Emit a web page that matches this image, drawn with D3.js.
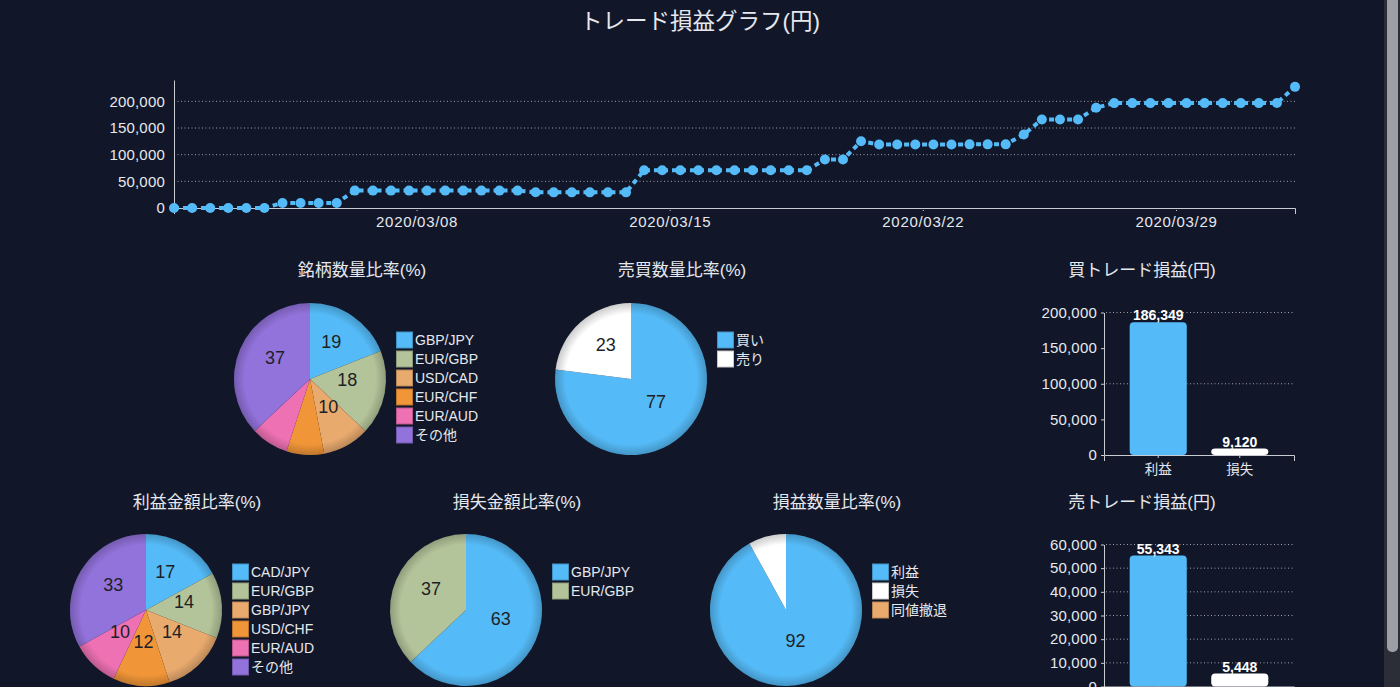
<!DOCTYPE html>
<html>
<head>
<meta charset="utf-8">
<script src="https://cdn.jsdelivr.net/npm/d3@7"></script>
<style>
  html, body { margin: 0; padding: 0; background: #111729; overflow: hidden; }
  svg { display: block; font-family: "Liberation Sans", "Noto Sans CJK JP", sans-serif; }
</style>
</head>
<body>
<div id="chart"></div>
<script>
// cumulative P/L, one point every 12 hours
const dates = [
  '2020-03-01T07', '2020-03-01T19', '2020-03-02T07', '2020-03-02T19', '2020-03-03T07', '2020-03-03T19',
  '2020-03-04T07', '2020-03-04T19', '2020-03-05T07', '2020-03-05T19', '2020-03-06T07', '2020-03-06T19',
  '2020-03-07T07', '2020-03-07T19', '2020-03-08T07', '2020-03-08T19', '2020-03-09T07', '2020-03-09T19',
  '2020-03-10T07', '2020-03-10T19', '2020-03-11T07', '2020-03-11T19', '2020-03-12T07', '2020-03-12T19',
  '2020-03-13T07', '2020-03-13T19', '2020-03-14T07', '2020-03-14T19', '2020-03-15T07', '2020-03-15T19',
  '2020-03-16T07', '2020-03-16T19', '2020-03-17T07', '2020-03-17T19', '2020-03-18T07', '2020-03-18T19',
  '2020-03-19T07', '2020-03-19T19', '2020-03-20T07', '2020-03-20T19', '2020-03-21T07', '2020-03-21T19',
  '2020-03-22T07', '2020-03-22T19', '2020-03-23T07', '2020-03-23T19', '2020-03-24T07', '2020-03-24T19',
  '2020-03-25T07', '2020-03-25T19', '2020-03-26T07', '2020-03-26T19', '2020-03-27T07', '2020-03-27T19',
  '2020-03-28T07', '2020-03-28T19', '2020-03-29T07', '2020-03-29T19', '2020-03-30T07', '2020-03-30T19',
  '2020-03-31T07', '2020-03-31T19', '2020-04-01T07'
]
const cumulative = [
  0, 0, 0, 0, 0, 0,
  9500, 9500, 9500, 9500,
  32600, 32600, 32600, 32600, 32600, 32600, 32600, 32600, 32600, 32600,
  29500, 29300, 29300, 29300, 29300, 29300,
  70700, 70700, 70700, 70700, 70700, 70700, 70700, 70700, 70700, 70700,
  90800, 90800,
  125200,
  119000, 119000, 119000, 119000, 119000, 119300, 119300, 119300,
  137800,
  166000, 166000, 166000,
  188000,
  196700, 196700, 196700, 196700, 196700, 196700, 196700, 196700, 196700, 196800,
  227124
]
const lineTicks = [0, 50000, 100000, 150000, 200000]

const symbolNames = ['GBP/JPY', 'EUR/GBP', 'USD/CAD', 'EUR/CHF', 'EUR/AUD', 'その他']
const symbolShares = [19, 18, 10, 8, 8, 37]
const sideNames = ['買い', '売り']
const sideShares = [77, 23]
const profitNames = ['CAD/JPY', 'EUR/GBP', 'GBP/JPY', 'USD/CHF', 'EUR/AUD', 'その他']
const profitShares = [17, 14, 14, 12, 10, 33]
const lossNames = ['GBP/JPY', 'EUR/GBP']
const lossShares = [63, 37]
const outcomeNames = ['利益', '損失', '同値撤退']
const outcomeShares = [92, 8, 0]

const barCategories = ['利益', '損失']
const buyPL = [186349, 9120]
const sellPL = [55343, 5448]
const buyTicks = [0, 50000, 100000, 150000, 200000]
const buyGrid = [100000, 200000]
const sellTicks = [0, 10000, 20000, 30000, 40000, 50000, 60000]

const blue = '#55bbf8'
const pairColours = [blue, '#b4c49a', '#e9aa6e', '#f09538', '#ed71b3', '#9272db']
const sideColours = [blue, '#ffffff', '#e9aa6e']
const textColour = '#e6e8ee'

const svg = d3.select('#chart').append('svg')
  .attr('width', 1400)
  .attr('height', 687)

svg.append('rect')
  .attr('width', 1400)
  .attr('height', 687)
  .attr('fill', '#111729')

// rim shading for pies
const defs = svg.append('defs')
const grad = defs.append('radialGradient').attr('id', 'rim')
grad.append('stop').attr('offset', '0%').attr('stop-color', '#000').attr('stop-opacity', 0)
grad.append('stop').attr('offset', '86%').attr('stop-color', '#000').attr('stop-opacity', 0)
grad.append('stop').attr('offset', '100%').attr('stop-color', '#000').attr('stop-opacity', 0.2)

svg.append('text')
  .attr('x', 700)
  .attr('y', 21)
  .attr('dy', '0.35em')
  .attr('text-anchor', 'middle')
  .style('font-size', '22.5px')
  .attr('fill', textColour)
  .text('トレード損益グラフ(円)')

makeLine()

makePie({ cx: 310, cy: 379, title: '銘柄数量比率(%)', tx: 362, ty: 270, names: symbolNames, values: symbolShares, colours: pairColours, lx: 396, ly: 340 })
makePie({ cx: 631, cy: 379, title: '売買数量比率(%)', tx: 682, ty: 270, names: sideNames, values: sideShares, colours: sideColours, lx: 717, ly: 340 })
makePie({ cx: 146, cy: 610, title: '利益金額比率(%)', tx: 197, ty: 502, names: profitNames, values: profitShares, colours: pairColours, lx: 232, ly: 572 })
makePie({ cx: 466, cy: 610, title: '損失金額比率(%)', tx: 517, ty: 502, names: lossNames, values: lossShares, colours: pairColours, lx: 552, ly: 572 })
makePie({ cx: 786, cy: 610, title: '損益数量比率(%)', tx: 837, ty: 502, names: outcomeNames, values: outcomeShares, colours: sideColours, lx: 872, ly: 572 })

makeBar({ title: '買トレード損益(円)', ty: 270, values: buyPL, ticks: buyTicks, grid: buyGrid, max: 200000, y0: 455, y1: 312.5 })
makeBar({ title: '売トレード損益(円)', ty: 502, values: sellPL, ticks: sellTicks, grid: sellTicks.slice(1), max: 60000, y0: 686.5, y1: 544.5 })

// scrollbar of the original screenshot
svg.append('rect').attr('x', 1384).attr('y', 0).attr('width', 16).attr('height', 687).attr('fill', '#2b2e36')
svg.append('rect').attr('x', 1387).attr('y', -6).attr('width', 11).attr('height', 658).attr('rx', 5).attr('fill', '#9c9fa6')

function makeLine() {
  const parse = d3.timeParse('%Y-%m-%dT%H')
  const pts = dates.map((d, i) => ({ date: parse(d), value: cumulative[i] }))

  const x = d3.scaleTime()
    .domain(d3.extent(pts, d => d.date))
    .range([174, 1295])
  const y = d3.scaleLinear()
    .domain([0, 240000])
    .range([208, 80])

  const g = svg.append('g')

  g.selectAll('.grid')
    .data(lineTicks.filter(t => t > 0))
    .enter()
    .append('line')
    .attr('x1', 174)
    .attr('x2', 1295)
    .attr('y1', d => y(d))
    .attr('y2', d => y(d))
    .attr('stroke', 'rgba(255,255,255,0.6)')
    .attr('stroke-dasharray', '1,2.5')

  const yAxis = g.append('g')
    .attr('transform', 'translate(174,0)')
    .call(d3.axisLeft(y).tickValues(lineTicks).tickFormat(d3.format(',')).tickSize(0).tickPadding(9))
  styleAxis(yAxis, 15, 0.2)

  const xAxis = g.append('g')
    .attr('transform', 'translate(0,208)')
    .call(d3.axisBottom(x).ticks(d3.timeWeek.every(1)).tickFormat(d3.timeFormat('%Y/%m/%d')).tickSize(3).tickSizeOuter(6).tickPadding(5))
  styleAxis(xAxis, 15, 0.7)
  xAxis.selectAll('.tick line').attr('stroke-dasharray', '1,1')

  const line = d3.line()
    .x(d => x(d.date))
    .y(d => y(d.value))

  g.append('path')
    .datum(pts)
    .attr('d', line)
    .attr('fill', 'none')
    .attr('stroke', blue)
    .attr('stroke-width', 4)
    .attr('stroke-dasharray', '5,4')

  g.selectAll('.dot')
    .data(pts)
    .enter()
    .append('circle')
    .attr('cx', d => x(d.date))
    .attr('cy', d => y(d.value))
    .attr('r', 5)
    .attr('fill', blue)
}

function styleAxis(ax, size, spacing) {
  ax.select('.domain').attr('stroke', '#c9ccd3')
  ax.selectAll('.tick line').attr('stroke', '#c9ccd3')
  ax.selectAll('.tick text')
    .attr('fill', textColour)
    .style('font-size', size + 'px')
    .style('letter-spacing', (spacing || 0) + 'px')
    .style('font-family', '"Liberation Sans", "Noto Sans CJK JP", sans-serif')
}

function makePie({ cx, cy, title, tx, ty, names, values, colours, lx, ly }) {
  const radius = 76
  const data = names.map((n, i) => ({ name: n, value: values[i], colour: colours[i] }))

  svg.append('text')
    .attr('x', tx)
    .attr('y', ty)
    .attr('dy', '0.35em')
    .attr('text-anchor', 'middle')
    .style('font-size', '17px')
    .attr('fill', textColour)
    .text(title)

  const g = svg.append('g')
    .attr('transform', `translate(${cx} ${cy})`)

  const arcs = d3.pie().value(d => d.value).sort(null)(data)
  const arcGenerator = d3.arc().innerRadius(0).outerRadius(radius)

  g.selectAll('path')
    .data(arcs)
    .enter()
    .append('path')
    .attr('d', arcGenerator)
    .attr('fill', d => d.data.colour)

  g.append('circle')
    .attr('r', radius)
    .attr('fill', 'url(#rim)')

  g.selectAll('.labelsPie')
    .data(arcs.filter(d => d.data.value >= 10))
    .enter()
    .append('text')
    .attr('class', 'labelsPie')
    .attr('transform', d => `translate(${arcGenerator.centroid(d)})`)
    .attr('dy', '0.02em')
    .style('text-anchor', 'middle')
    .style('font-size', '18px')
    .attr('fill', '#1d1f26')
    .text(d => d.data.value)

  const leg = svg.append('g')
    .attr('transform', `translate(${lx} ${ly})`)

  leg.selectAll('rect')
    .data(data)
    .enter()
    .append('rect')
    .attr('x', 0.5)
    .attr('y', (d, i) => i * 19 - 8)
    .attr('width', 16)
    .attr('height', 16)
    .attr('fill', d => d.colour)
    .attr('stroke', d => d3.color(d.colour).darker(0.7))
    .attr('stroke-width', 1)

  leg.selectAll('text')
    .data(data)
    .enter()
    .append('text')
    .attr('x', 19)
    .attr('y', (d, i) => i * 19)
    .attr('dy', '0.35em')
    .style('font-size', '14px')
    .attr('fill', textColour)
    .text(d => d.name)
}

function makeBar({ title, ty, values, ticks, grid, max, y0, y1 }) {
  const data = barCategories.map((c, i) => ({ name: c, value: values[i], colour: sideColours[i] }))

  svg.append('text')
    .attr('x', 1142)
    .attr('y', ty)
    .attr('dy', '0.35em')
    .attr('text-anchor', 'middle')
    .style('font-size', '17px')
    .attr('fill', textColour)
    .text(title)

  const x = d3.scaleBand()
    .domain(barCategories)
    .range([1104, 1294])
    .paddingInner(0.3)
    .paddingOuter(0.315)
  const y = d3.scaleLinear()
    .domain([0, max])
    .range([y0, y1])

  const g = svg.append('g')

  g.selectAll('.grid')
    .data(grid)
    .enter()
    .append('line')
    .attr('x1', 1106)
    .attr('x2', 1294)
    .attr('y1', d => y(d))
    .attr('y2', d => y(d))
    .attr('stroke', 'rgba(255,255,255,0.6)')
    .attr('stroke-dasharray', '1,2.5')

  const yAxis = g.append('g')
    .attr('transform', 'translate(1104,0)')
    .call(d3.axisLeft(y).tickValues(ticks).tickFormat(d3.format(',')).tickSize(3).tickSizeOuter(0).tickPadding(4))
  styleAxis(yAxis, 15, 0.2)

  g.selectAll('.bar')
    .data(data)
    .enter()
    .append('rect')
    .attr('x', d => x(d.name))
    .attr('y', d => y(d.value))
    .attr('width', x.bandwidth())
    .attr('height', d => y0 - y(d.value))
    .attr('rx', 4)
    .attr('fill', d => d.colour)

  const xAxis = g.append('g')
    .attr('transform', `translate(0,${y0})`)
    .call(d3.axisBottom(x).tickSize(3).tickSizeOuter(6).tickPadding(6))
  styleAxis(xAxis, 13.5)

  g.selectAll('.barLabel')
    .data(data)
    .enter()
    .append('text')
    .attr('x', d => x(d.name) + x.bandwidth() / 2)
    .attr('y', d => y(d.value) - 2)
    .attr('text-anchor', 'middle')
    .style('font-size', '14px')
    .style('font-weight', 'bold')
    .attr('fill', '#ffffff')
    .text(d => d3.format(',')(d.value))
}
</script>
</body>
</html>
